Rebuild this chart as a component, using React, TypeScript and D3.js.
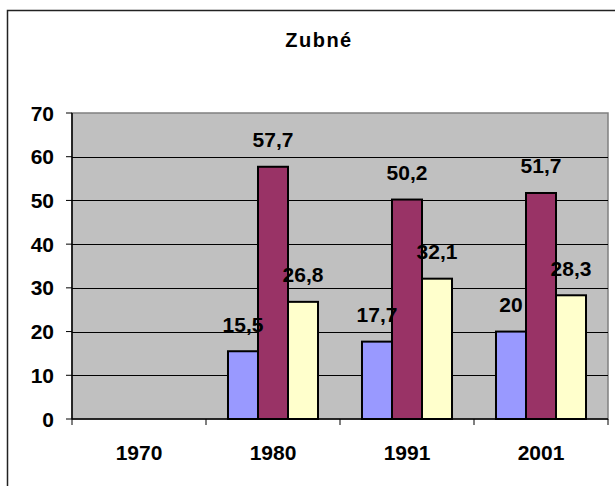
import { useEffect, useRef } from "react"
import * as d3 from "d3"

const categories = ["1970", "1980", "1991", "2001"]
const seriesA = [null, 15.5, 17.7, 20]
const seriesB = [null, 57.7, 50.2, 51.7]
const seriesC = [null, 26.8, 32.1, 28.3]
const yTicks = [0, 10, 20, 30, 40, 50, 60, 70]
const title = "Zubné"

const colors = ["#9999FF", "#993366", "#FFFFCC"]
const font = "Liberation Sans, Arial, sans-serif"

export default function App() {
  const svgRef = useRef<SVGSVGElement>(null)

  useEffect(() => {
    if (!svgRef.current) return
    const width = 615
    const height = 486
    d3.select(svgRef.current).selectAll("*").remove()
    const svg = d3.select(svgRef.current).attr("width", width).attr("height", height)

    // moldura externa
    svg
      .append("rect")
      .attr("x", 7.5)
      .attr("y", 10.5)
      .attr("width", 640)
      .attr("height", 520)
      .attr("fill", "#fff")
      .attr("stroke", "#222")
      .attr("stroke-width", 1.5)

    const left = 72
    const right = 608
    const top = 113
    const bottom = 419

    const x = d3.scaleBand().domain(categories).range([left, right]).padding(0)
    const y = d3.scaleLinear().domain([0, 70]).range([bottom, top])

    const series = [seriesA, seriesB, seriesC]
    const inner = d3
      .scaleBand()
      .domain(["0", "1", "2"])
      .range([0, x.bandwidth()])
      .paddingOuter(0.733)
      .paddingInner(0)

    // fundo da área de plotagem
    svg
      .append("rect")
      .attr("x", left)
      .attr("y", top)
      .attr("width", right - left)
      .attr("height", bottom - top)
      .attr("fill", "#C0C0C0")
      .attr("stroke", "#808080")
      .attr("stroke-width", 1.5)

    // linhas de grade
    svg
      .selectAll(".grid")
      .data(yTicks.filter((t) => t > 0 && t < 70))
      .enter()
      .append("line")
      .attr("x1", left)
      .attr("x2", right)
      .attr("y1", (d) => Math.round(y(d)) + 0.5)
      .attr("y2", (d) => Math.round(y(d)) + 0.5)
      .attr("stroke", "#000")
      .attr("stroke-width", 1)

    // barras
    series.forEach((values, si) => {
      svg
        .append("g")
        .selectAll("rect")
        .data(categories.map((c, i) => ({ c, v: values[i] })).filter((d) => d.v != null))
        .enter()
        .append("rect")
        .attr("x", (d) => (x(d.c) || 0) + (inner(String(si)) || 0))
        .attr("y", (d) => y(d.v as number))
        .attr("width", inner.bandwidth())
        .attr("height", (d) => bottom - y(d.v as number))
        .attr("fill", colors[si])
        .attr("stroke", "#000")
        .attr("stroke-width", 2)
    })

    // eixo Y
    svg
      .append("line")
      .attr("x1", left)
      .attr("x2", left)
      .attr("y1", top)
      .attr("y2", bottom)
      .attr("stroke", "#000")
      .attr("stroke-width", 1.5)

    yTicks.forEach((t) => {
      svg
        .append("line")
        .attr("x1", left - 6)
        .attr("x2", left)
        .attr("y1", y(t))
        .attr("y2", y(t))
        .attr("stroke", "#000")
        .attr("stroke-width", 1)
      svg
        .append("text")
        .attr("x", 54)
        .attr("y", y(t) + 7.5)
        .attr("text-anchor", "end")
        .attr("font-family", font)
        .attr("font-weight", "bold")
        .attr("font-size", 21)
        .text(t)
    })

    // eixo X
    svg
      .append("line")
      .attr("x1", left)
      .attr("x2", right)
      .attr("y1", bottom)
      .attr("y2", bottom)
      .attr("stroke", "#000")
      .attr("stroke-width", 1.5)

    categories.forEach((c) => {
      svg
        .append("line")
        .attr("x1", x(c) || 0)
        .attr("x2", x(c) || 0)
        .attr("y1", bottom)
        .attr("y2", bottom + 6)
        .attr("stroke", "#000")
      svg
        .append("text")
        .attr("x", (x(c) || 0) + x.bandwidth() / 2)
        .attr("y", 460)
        .attr("text-anchor", "middle")
        .attr("font-family", font)
        .attr("font-weight", "bold")
        .attr("font-size", 21)
        .text(c)
    })
    svg
      .append("line")
      .attr("x1", right)
      .attr("x2", right)
      .attr("y1", bottom)
      .attr("y2", bottom + 6)
      .attr("stroke", "#000")

    // rótulos de dados
    series.forEach((values, si) => {
      categories.forEach((c, i) => {
        const v = values[i]
        if (v == null) return
        svg
          .append("text")
          .attr("x", (x(c) || 0) + (inner(String(si)) || 0) + inner.bandwidth() / 2)
          .attr("y", y(v) - 19.5)
          .attr("text-anchor", "middle")
          .attr("font-family", font)
          .attr("font-weight", "bold")
          .attr("font-size", 21)
          .text(String(v).replace(".", ","))
      })
    })

    // título
    svg
      .append("text")
      .attr("x", 319)
      .attr("y", 47)
      .attr("text-anchor", "middle")
      .attr("font-family", font)
      .attr("font-weight", "bold")
      .attr("font-size", 20)
      .attr("letter-spacing", 1.5)
      .text(title)
  }, [])

  return (
    <div style={{ position: "absolute", left: 0, top: 0, width: 615, height: 486, overflow: "hidden" }}>
      <svg ref={svgRef} style={{ display: "block" }} />
    </div>
  )
}
